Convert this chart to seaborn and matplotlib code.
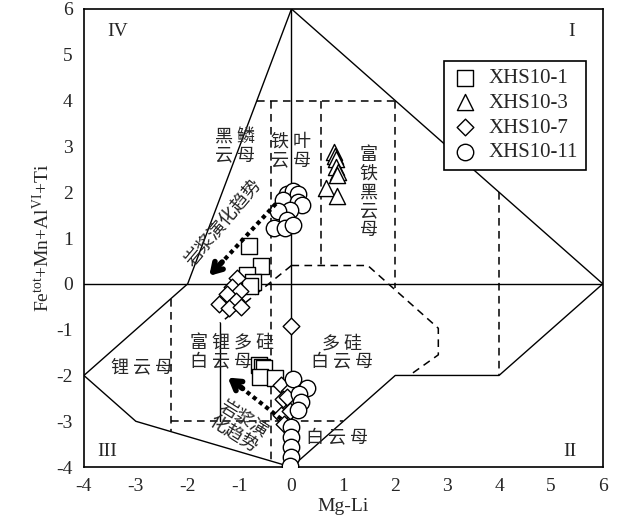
import numpy as np
import pandas as pd
import matplotlib
matplotlib.use('Agg')
import matplotlib.pyplot as plt
import seaborn as sns

# sample points (Mg-Li, Fe_tot+Mn+Al_VI+Ti)
xhs10_1_x = [-0.82, -0.58, -0.85, -0.75, -0.80, -0.62, -0.56, -0.52, -0.60, -0.32]
xhs10_1_y = [0.82, 0.38, 0.20, 0.05, -0.05, -1.77, -1.81, -1.84, -2.03, -2.06]

xhs10_3_x = [0.82, 0.84, 0.86, 0.86, 0.90, 0.88, 0.66, 0.88]
xhs10_3_y = [2.88, 2.80, 2.72, 2.55, 2.45, 2.38, 2.10, 1.92]

xhs10_7_x = [-1.05, -1.15, -1.00, -1.25, -1.06, -1.40, -1.20, -0.98, 0.00,
             -0.20, -0.05, -0.16, 0.03, -0.09, -0.06, -0.20, -0.03, -0.15]
xhs10_7_y = [0.12, -0.06, -0.15, -0.22, -0.37, -0.44, -0.52, -0.50, -0.93,
             -2.20, -2.35, -2.52, -2.60, -2.46, -2.83, -2.87, -2.78, -3.07]

xhs10_11_x = [-0.09, 0.02, 0.12, -0.16, 0.12, 0.20, -0.03, -0.26, -0.09, -0.33, -0.13, 0.03,
              0.03, 0.29, 0.14, 0.18, 0.12, 0.00, 0.00, 0.00, 0.00, -0.02]
xhs10_11_y = [1.97, 2.02, 1.95, 1.82, 1.79, 1.72, 1.62, 1.58, 1.40, 1.22, 1.22, 1.28,
              -2.08, -2.28, -2.40, -2.58, -2.75, -3.13, -3.35, -3.57, -3.78, -3.97]

samples = ['XHS10-1', 'XHS10-3', 'XHS10-7', 'XHS10-11']
markers = {'XHS10-1': 's', 'XHS10-3': '^', 'XHS10-7': 'D', 'XHS10-11': 'o'}
msize = {'XHS10-1': 135, 'XHS10-3': 135, 'XHS10-7': 72, 'XHS10-11': 140}

df = pd.concat([
    pd.DataFrame({'x': xhs10_1_x, 'y': xhs10_1_y, 'sample': 'XHS10-1'}),
    pd.DataFrame({'x': xhs10_3_x, 'y': xhs10_3_y, 'sample': 'XHS10-3'}),
    pd.DataFrame({'x': xhs10_7_x, 'y': xhs10_7_y, 'sample': 'XHS10-7'}),
    pd.DataFrame({'x': xhs10_11_x, 'y': xhs10_11_y, 'sample': 'XHS10-11'}),
])

# field boundaries
outline_x = [0, 6, 4, 2, 0, -3, -4, -2, 0]
outline_y = [6, 0, -2, -2, -4, -3, -2, 0, 6]
solid_lines = [
    ([0, 0], [-4, 6]),
    ([-4, 6], [0, 0]),
    ([-1.38, -1.38], [-0.86, -3.0]),
]
dashed_lines = [
    ([-0.67, 2], [4, 4]),
    ([-0.4, -0.4], [4, -3.87]),
    ([0.57, 0.57], [4, 0.4]),
    ([2, 2], [4, -0.1]),
    ([0, 1.47, 2.83, 2.83, 2.27], [0.4, 0.4, -0.97, -1.55, -2.0]),
    ([0, -1.38], [0.4, -0.86]),
    ([-2.33, -2.33], [-0.33, -3.22]),
    ([-2.33, 1.0], [-3, -3]),
    ([4, 4], [2, -2]),
]

sns.set_style('white')
plt.rcParams['font.family'] = ['Liberation Serif', 'Noto Sans CJK SC']
plt.rcParams['mathtext.fontset'] = 'custom'
plt.rcParams['mathtext.rm'] = 'Liberation Serif'
plt.rcParams['mathtext.it'] = 'Liberation Serif:italic'
plt.rcParams['axes.unicode_minus'] = False
cjk = ['Noto Sans CJK SC', 'DejaVu Sans']

fig = plt.figure(figsize=(6.17, 5.26), dpi=100)
ax = fig.add_axes([0.136, 0.112, 0.841, 0.871])

ax.plot(outline_x, outline_y, color='black', lw=1.0, zorder=1)
for lx, ly in solid_lines:
    ax.plot(lx, ly, color='black', lw=1.0, zorder=1)
for lx, ly in dashed_lines:
    ax.plot(lx, ly, color='black', lw=1.1, ls=(0, (5, 3.5)), zorder=1)

for name in samples:
    sub = df[df['sample'] == name]
    sns.scatterplot(x=sub['x'], y=sub['y'], marker=markers[name], s=msize[name],
                    color='white', edgecolor='black', linewidth=1.0,
                    label=name, ax=ax, zorder=3)

# evolution arrows
ax.plot([-0.3, -1.38], [1.75, 0.42], color='black', lw=3, ls=(0, (1, 0.9)), zorder=4)
ax.annotate('', xy=(-1.62, 0.13), xytext=(-1.3, 0.52),
            arrowprops=dict(arrowstyle='->,head_length=0.65,head_width=0.4',
                            lw=4, color='black'), zorder=4)
ax.plot([-0.2, -0.96], [-2.95, -2.27], color='black', lw=3, ls=(0, (1, 0.9)), zorder=4)
ax.annotate('', xy=(-1.27, -2.01), xytext=(-0.9, -2.32),
            arrowprops=dict(arrowstyle='->,head_length=0.65,head_width=0.4',
                            lw=4, color='black'), zorder=4)

ax.text(-1.31, 1.33, '岩浆演化趋势', rotation=50, fontsize=13, family=cjk,
        ha='center', va='center', color='#222222', zorder=5)
ax.text(-1.02, -3.11, '岩浆演\n化趋势', rotation=-32, fontsize=13, family=cjk,
        ha='center', va='center', color='#222222', linespacing=1.0, zorder=5)

# field names
ax.text(-1.09, 3.0, '黑 鳞\n云 母', fontsize=13, family=cjk, ha='center', va='center', linespacing=1.05)
ax.text(0.0, 2.9, '铁 叶\n云 母', fontsize=13, family=cjk, ha='center', va='center', linespacing=1.05)
ax.text(1.49, 2.0, '富\n铁\n黑\n云\n母', fontsize=13, family=cjk, ha='center', va='center', linespacing=1.05)
ax.text(-2.89, -1.81, '锂 云 母', fontsize=13, family=cjk, ha='center', va='center')
ax.text(-1.95, -1.51, '富 锂 多 硅\n白 云 母', fontsize=13, family=cjk, ha='left', va='center', linespacing=1.05)
ax.text(0.97, -1.51, '多 硅\n白 云 母', fontsize=13, family=cjk, ha='center', va='center', linespacing=1.05)
ax.text(0.87, -3.37, '白 云 母', fontsize=13, family=cjk, ha='center', va='center')

# quadrant numbers
ax.text(-3.35, 5.5, 'IV', fontsize=14, ha='center', va='center')
ax.text(5.4, 5.5, 'I', fontsize=14, ha='center', va='center')
ax.text(-3.55, -3.67, 'III', fontsize=14, ha='center', va='center')
ax.text(5.36, -3.67, 'II', fontsize=14, ha='center', va='center')

ax.set_xlim(-4, 6)
ax.set_ylim(-4, 6)
ax.set_xticks(range(-4, 7))
ax.set_yticks(range(-4, 7))
ax.tick_params(direction='in', length=6, width=1, labelsize=14, pad=8)
for sp in ax.spines.values():
    sp.set_color('black')
    sp.set_linewidth(1.2)
ax.set_xlabel('Mg-Li', fontsize=14, labelpad=2)
ax.set_ylabel(r'Fe$^{\rm tot}$+Mn+Al$^{\rm VI}$+Ti', fontsize=14, labelpad=2)

leg = ax.legend(loc='upper right', bbox_to_anchor=(0.967, 0.886), fontsize=15,
                frameon=True, fancybox=False, edgecolor='black', framealpha=1,
                borderpad=0.35, labelspacing=0.25, handletextpad=0.5,
                handlelength=1.3, borderaxespad=0)
leg.get_frame().set_linewidth(1.2)

plt.savefig('out.png', dpi=100)
